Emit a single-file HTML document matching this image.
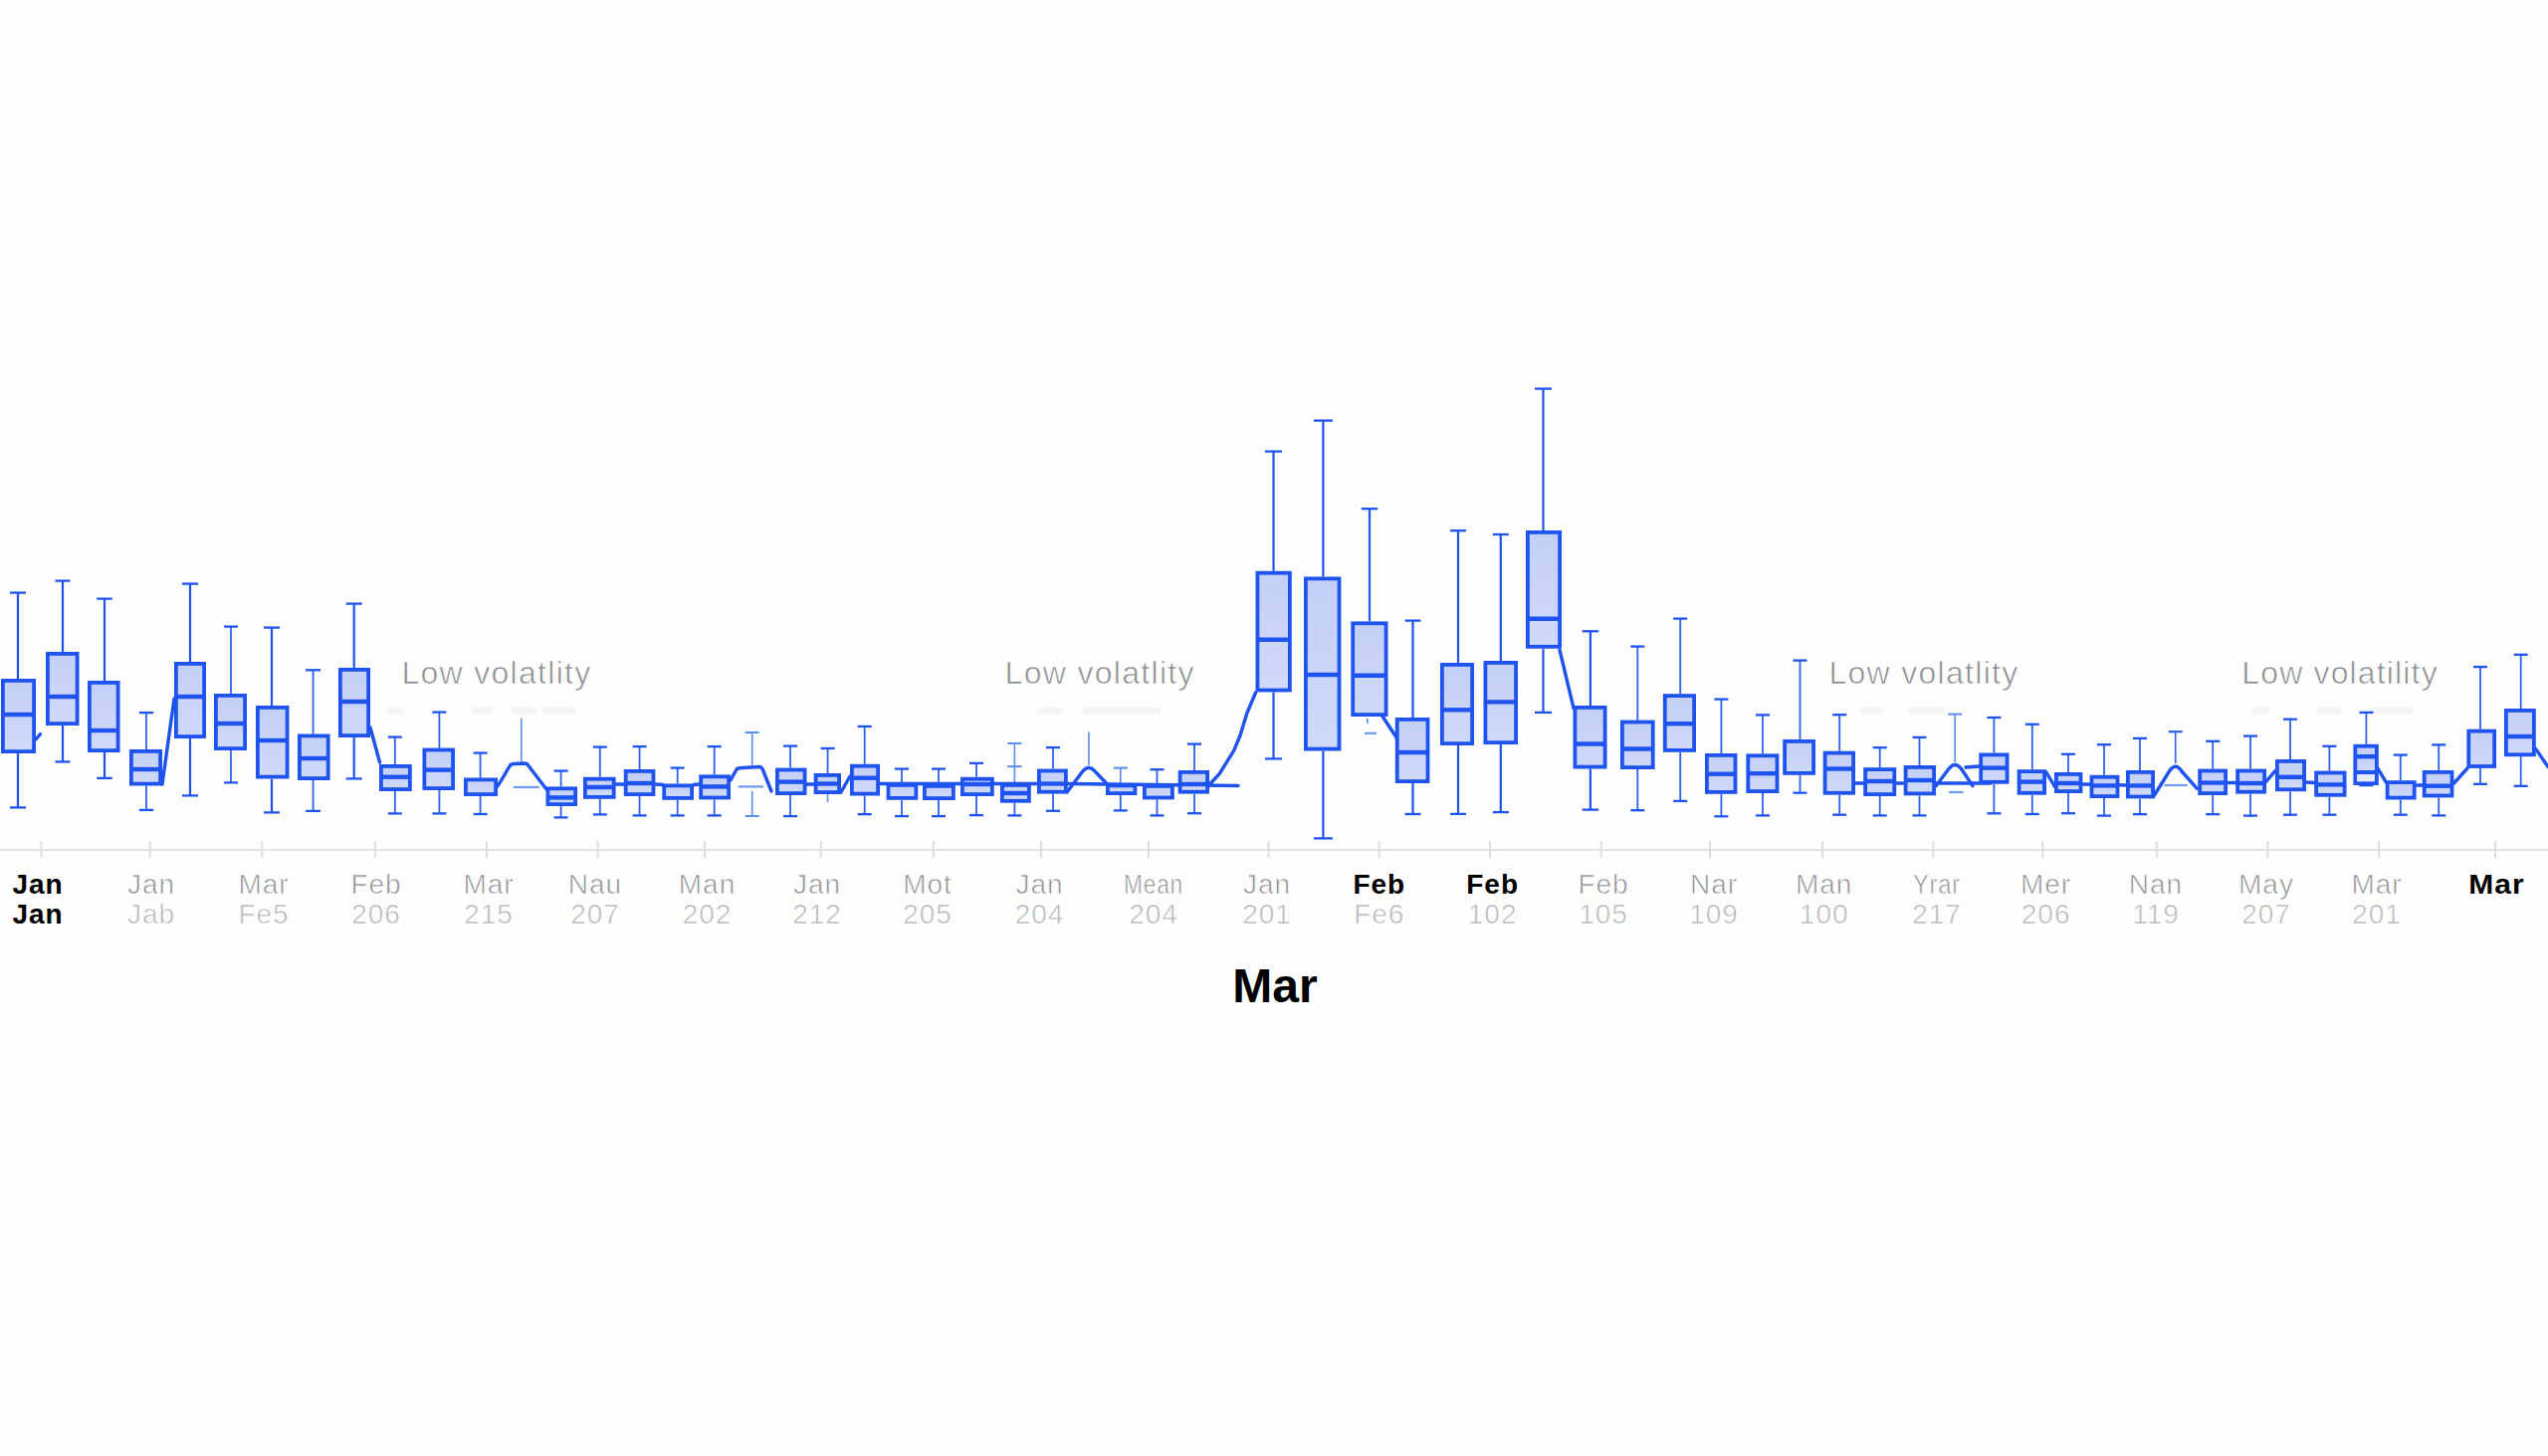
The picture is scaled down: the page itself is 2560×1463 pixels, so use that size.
<!DOCTYPE html>
<html><head><meta charset="utf-8"><title>Box plot</title>
<style>
html,body{margin:0;padding:0;background:#fdfdfb;}
body{width:2560px;height:1463px;overflow:hidden;}
svg{display:block;}
.lab{font-family:"Liberation Sans",Arial,sans-serif;}
</style></head><body>
<svg width="2560" height="1463" viewBox="0 0 2560 1463">
<defs><linearGradient id="bf" x1="0" y1="0" x2="0" y2="1"><stop offset="0" stop-color="#c4cff7"/><stop offset="1" stop-color="#cfd9f9"/></linearGradient></defs>
<rect width="2560" height="1463" fill="#fdfdfb"/>
<g stroke="#dcdee2" stroke-width="2" fill="none">
<line x1="0" y1="854" x2="2560" y2="854" stroke="#e3e4e8"/>
<line x1="41.5" y1="845" x2="41.5" y2="862"/>
<line x1="150.8" y1="845" x2="150.8" y2="862"/>
<line x1="263.3" y1="845" x2="263.3" y2="862"/>
<line x1="376.9" y1="845" x2="376.9" y2="862"/>
<line x1="489" y1="845" x2="489" y2="862"/>
<line x1="600.5" y1="845" x2="600.5" y2="862"/>
<line x1="708" y1="845" x2="708" y2="862"/>
<line x1="824.8" y1="845" x2="824.8" y2="862"/>
<line x1="937.8" y1="845" x2="937.8" y2="862"/>
<line x1="1045.9" y1="845" x2="1045.9" y2="862"/>
<line x1="1154" y1="845" x2="1154" y2="862"/>
<line x1="1274.7" y1="845" x2="1274.7" y2="862"/>
<line x1="1385.7" y1="845" x2="1385.7" y2="862"/>
<line x1="1497" y1="845" x2="1497" y2="862"/>
<line x1="1608.8" y1="845" x2="1608.8" y2="862"/>
<line x1="1718" y1="845" x2="1718" y2="862"/>
<line x1="1831" y1="845" x2="1831" y2="862"/>
<line x1="1942.4" y1="845" x2="1942.4" y2="862"/>
<line x1="2052.3" y1="845" x2="2052.3" y2="862"/>
<line x1="2166.9" y1="845" x2="2166.9" y2="862"/>
<line x1="2278.4" y1="845" x2="2278.4" y2="862"/>
<line x1="2390.2" y1="845" x2="2390.2" y2="862"/>
<line x1="2507" y1="845" x2="2507" y2="862"/>
</g>
<g fill="#f1f2f4" opacity="0.8">
<rect x="388" y="711" width="17" height="6" rx="3"/>
<rect x="474" y="711" width="21" height="6" rx="3"/>
<rect x="513" y="711" width="27" height="6" rx="3"/>
<rect x="545" y="711" width="34" height="6" rx="3"/>
<rect x="1043" y="711" width="25" height="6" rx="3"/>
<rect x="1087" y="711" width="79" height="6" rx="3"/>
<rect x="1870" y="711" width="22" height="6" rx="3"/>
<rect x="1918" y="711" width="37" height="6" rx="3"/>
<rect x="2262" y="711" width="18" height="6" rx="3"/>
<rect x="2327" y="711" width="25" height="6" rx="3"/>
<rect x="2380" y="711" width="45" height="6" rx="3"/>
</g>
<g stroke="#5b8cf0" stroke-width="1.6" fill="none">
<line x1="523.8" y1="721.7" x2="523.8" y2="766"/>
<line x1="755.7" y1="736" x2="755.7" y2="769"/>
<line x1="748.7" y1="736" x2="762.7" y2="736" stroke-width="2"/>
<line x1="755.7" y1="795" x2="755.7" y2="820"/>
<line x1="748.7" y1="820" x2="762.7" y2="820" stroke-width="2"/>
<line x1="1094" y1="735.6" x2="1094" y2="769"/>
<line x1="831.6" y1="798" x2="831.6" y2="806"/>
<line x1="1373.8" y1="722" x2="1373.8" y2="727"/>
<line x1="1019.4" y1="747" x2="1019.4" y2="787"/>
<line x1="1012.4" y1="747" x2="1026.4" y2="747" stroke-width="2"/>
<line x1="1125.8" y1="771.6" x2="1125.8" y2="788"/>
<line x1="1118.8" y1="771.6" x2="1132.8" y2="771.6" stroke-width="2"/>
<line x1="1964.2" y1="717.6" x2="1964.2" y2="766"/>
<line x1="1957.2" y1="717.6" x2="1971.2" y2="717.6" stroke-width="2"/>
<line x1="1012" y1="770.2" x2="1026.5" y2="770.2" stroke-width="2"/>
<line x1="1371" y1="736.8" x2="1383" y2="736.8" stroke-width="2.2" stroke="#6f9af2"/>
<line x1="516" y1="791" x2="541.6" y2="791" stroke-width="2.2" stroke="#6f9af2"/>
<line x1="741.7" y1="790.4" x2="767" y2="790.4" stroke-width="2.2" stroke="#6f9af2"/>
<line x1="1958" y1="796" x2="1972.5" y2="796" stroke-width="2.2" stroke="#6f9af2"/>
<line x1="2174.6" y1="789" x2="2197.7" y2="789" stroke-width="2.2" stroke="#6f9af2"/>
</g>
<g stroke="#1f53ef" stroke-width="3.4" fill="none" stroke-linejoin="round" stroke-linecap="round">
<polyline points="36,743 40.5,737.5"/>
<polyline points="163,788 175,702"/>
<polyline points="372,731 381.5,766"/>
<polyline points="618,788 627,788"/>
<polyline points="658,788 666,788.5"/>
<polyline points="697,788.5 703,788"/>
<polyline points="810,788 818,788"/>
<polyline points="845,796 854,780"/>
<polyline points="884,787.5 1042,787.5"/>
<polyline points="1072,787.5 1244,789.5"/>
<polyline points="1216,787.5 1225.3,777.4 1239.6,754.3 1246,739 1252.7,717 1261.5,696"/>
<polyline points="1388.5,719 1403,741"/>
<polyline points="1567,653 1581,711.7"/>
<polyline points="1864,787 2000,787"/>
<polyline points="1975,771 1989,770"/>
<polyline points="2055.9,776 2064.5,790.4"/>
<polyline points="2092,788 2137,789"/>
<polyline points="2238,786.5 2247,786.5"/>
<polyline points="2276.5,785.6 2286,774.6"/>
<polyline points="2317,786 2325,786.5"/>
<polyline points="2389,772 2397,785.6"/>
<polyline points="2427,789 2434,789"/>
<polyline points="2465.5,787 2479,772"/>
<polyline points="2547.8,752.6 2560,770.5"/>
<path d="M500,790 L512,770 Q513.5,767.5 516,767.5 L527,767 Q529.5,767 531,769.5 L549,793"/>
<path d="M734,784 L739.5,774 Q740.5,771.8 743,771.8 L763,770.5 Q765,770.5 766,772.5 L775,795"/>
<path d="M1072,796 L1087,776 Q1094,767 1101,776 L1112,787.5"/>
<path d="M1945,789.7 L1958,772.5 Q1964.2,764.5 1970.5,772.5 L1982,789.7"/>
<path d="M2164.5,799 L2179.5,775 Q2185.7,765.5 2192,775 L2207.3,792.3"/>
</g>
<g stroke="#1f53ef" fill="none">
<line x1="18" y1="595" x2="18" y2="682" stroke-width="2.2" stroke="#1f53ef"/>
<line x1="10" y1="595.6" x2="26" y2="595.6" stroke-width="2.3"/>
<line x1="18" y1="757" x2="18" y2="812" stroke-width="2.2" stroke="#1f53ef"/>
<line x1="10" y1="811.4" x2="26" y2="811.4" stroke-width="2.3"/>
<rect x="2.9" y="683.9" width="31.2" height="71.2" fill="url(#bf)" stroke-width="3.8"/>
<line x1="2" y1="718" x2="35" y2="718" stroke-width="4.4"/>
<line x1="63" y1="583" x2="63" y2="655" stroke-width="2.2" stroke="#1f53ef"/>
<line x1="55.5" y1="583.6" x2="70.5" y2="583.6" stroke-width="2.3"/>
<line x1="63" y1="729" x2="63" y2="766" stroke-width="2.2" stroke="#1f53ef"/>
<line x1="55.5" y1="765.4" x2="70.5" y2="765.4" stroke-width="2.3"/>
<rect x="47.9" y="656.9" width="29.7" height="70.2" fill="url(#bf)" stroke-width="3.8"/>
<line x1="47" y1="700" x2="78.5" y2="700" stroke-width="4.4"/>
<line x1="105" y1="601" x2="105" y2="684" stroke-width="2.2" stroke="#1f53ef"/>
<line x1="97.25" y1="601.6" x2="112.75" y2="601.6" stroke-width="2.3"/>
<line x1="105" y1="756" x2="105" y2="782.5" stroke-width="2.2" stroke="#1f53ef"/>
<line x1="97.25" y1="781.9" x2="112.75" y2="781.9" stroke-width="2.3"/>
<rect x="89.9" y="685.9" width="28.7" height="68.2" fill="url(#bf)" stroke-width="3.8"/>
<line x1="89" y1="734" x2="119.5" y2="734" stroke-width="4.4"/>
<line x1="147" y1="715.5" x2="147" y2="753" stroke-width="1.8" stroke="#2d62ee"/>
<line x1="139.85" y1="716.1" x2="154.15" y2="716.1" stroke-width="2.3"/>
<line x1="147" y1="789.5" x2="147" y2="814.5" stroke-width="1.8" stroke="#2d62ee"/>
<line x1="139.85" y1="813.9" x2="154.15" y2="813.9" stroke-width="2.3"/>
<rect x="131.9" y="754.9" width="29.2" height="32.7" fill="url(#bf)" stroke-width="3.8"/>
<line x1="131" y1="773" x2="162" y2="773" stroke-width="4.4"/>
<line x1="191" y1="586" x2="191" y2="665" stroke-width="2.2" stroke="#1f53ef"/>
<line x1="183" y1="586.6" x2="199" y2="586.6" stroke-width="2.3"/>
<line x1="191" y1="742" x2="191" y2="800" stroke-width="2.2" stroke="#1f53ef"/>
<line x1="183" y1="799.4" x2="199" y2="799.4" stroke-width="2.3"/>
<rect x="176.9" y="666.9" width="28.2" height="73.2" fill="url(#bf)" stroke-width="3.8"/>
<line x1="176" y1="700" x2="206" y2="700" stroke-width="4.4"/>
<line x1="232" y1="629" x2="232" y2="697" stroke-width="1.8" stroke="#2d62ee"/>
<line x1="225" y1="629.6" x2="239" y2="629.6" stroke-width="2.3"/>
<line x1="232" y1="754" x2="232" y2="787" stroke-width="1.8" stroke="#2d62ee"/>
<line x1="225" y1="786.4" x2="239" y2="786.4" stroke-width="2.3"/>
<rect x="216.9" y="698.9" width="29.2" height="53.2" fill="url(#bf)" stroke-width="3.8"/>
<line x1="216" y1="727" x2="247" y2="727" stroke-width="4.4"/>
<line x1="273" y1="630" x2="273" y2="709" stroke-width="2.2" stroke="#1f53ef"/>
<line x1="265" y1="630.6" x2="281" y2="630.6" stroke-width="2.3"/>
<line x1="273" y1="782.5" x2="273" y2="817" stroke-width="2.2" stroke="#1f53ef"/>
<line x1="265" y1="816.4" x2="281" y2="816.4" stroke-width="2.3"/>
<rect x="258.9" y="710.9" width="29.7" height="69.7" fill="url(#bf)" stroke-width="3.8"/>
<line x1="258" y1="744" x2="289.5" y2="744" stroke-width="4.4"/>
<line x1="314.6" y1="672.7" x2="314.6" y2="737.5" stroke-width="1.8" stroke="#2d62ee"/>
<line x1="307.1" y1="673.3" x2="322.1" y2="673.3" stroke-width="2.3"/>
<line x1="314.6" y1="784" x2="314.6" y2="815.5" stroke-width="1.8" stroke="#2d62ee"/>
<line x1="307.1" y1="814.9" x2="322.1" y2="814.9" stroke-width="2.3"/>
<rect x="300.9" y="739.4" width="28.8" height="42.7" fill="url(#bf)" stroke-width="3.8"/>
<line x1="300" y1="762" x2="330.6" y2="762" stroke-width="4.4"/>
<line x1="355.7" y1="606" x2="355.7" y2="671" stroke-width="2.2" stroke="#1f53ef"/>
<line x1="347.7" y1="606.6" x2="363.7" y2="606.6" stroke-width="2.3"/>
<line x1="355.7" y1="741" x2="355.7" y2="783" stroke-width="2.2" stroke="#1f53ef"/>
<line x1="347.7" y1="782.4" x2="363.7" y2="782.4" stroke-width="2.3"/>
<rect x="341.9" y="672.9" width="28.2" height="66.2" fill="url(#bf)" stroke-width="3.8"/>
<line x1="341" y1="705" x2="371" y2="705" stroke-width="4.4"/>
<line x1="396.8" y1="740" x2="396.8" y2="768" stroke-width="1.8" stroke="#2d62ee"/>
<line x1="389.8" y1="740.6" x2="403.8" y2="740.6" stroke-width="2.3"/>
<line x1="396.8" y1="795" x2="396.8" y2="818" stroke-width="1.8" stroke="#2d62ee"/>
<line x1="389.8" y1="817.4" x2="403.8" y2="817.4" stroke-width="2.3"/>
<rect x="382.9" y="769.9" width="28.95" height="23.2" fill="url(#bf)" stroke-width="3.8"/>
<line x1="382" y1="780.7" x2="412.75" y2="780.7" stroke-width="4.4"/>
<line x1="441.4" y1="715" x2="441.4" y2="751.6" stroke-width="1.8" stroke="#2d62ee"/>
<line x1="434.4" y1="715.6" x2="448.4" y2="715.6" stroke-width="2.3"/>
<line x1="441.4" y1="794" x2="441.4" y2="818" stroke-width="1.8" stroke="#2d62ee"/>
<line x1="434.4" y1="817.4" x2="448.4" y2="817.4" stroke-width="2.3"/>
<rect x="426.4" y="753.5" width="28.7" height="38.6" fill="url(#bf)" stroke-width="3.8"/>
<line x1="425.5" y1="773.6" x2="456" y2="773.6" stroke-width="4.4"/>
<line x1="482.6" y1="756" x2="482.6" y2="781.5" stroke-width="1.8" stroke="#2d62ee"/>
<line x1="475.6" y1="756.6" x2="489.6" y2="756.6" stroke-width="2.3"/>
<line x1="482.6" y1="800" x2="482.6" y2="818.6" stroke-width="1.8" stroke="#2d62ee"/>
<line x1="475.6" y1="818" x2="489.6" y2="818" stroke-width="2.3"/>
<rect x="467.9" y="783.4" width="30.2" height="14.7" fill="url(#bf)" stroke-width="3.8"/>
<line x1="563.6" y1="774" x2="563.6" y2="790.4" stroke-width="1.8" stroke="#2d62ee"/>
<line x1="556.6" y1="774.6" x2="570.6" y2="774.6" stroke-width="2.3"/>
<line x1="563.6" y1="810" x2="563.6" y2="822" stroke-width="1.8" stroke="#2d62ee"/>
<line x1="556.6" y1="821.4" x2="570.6" y2="821.4" stroke-width="2.3"/>
<rect x="550.4" y="792.3" width="27.7" height="15.8" fill="url(#bf)" stroke-width="3.8"/>
<line x1="549.5" y1="801.4" x2="579" y2="801.4" stroke-width="4.4"/>
<line x1="602.8" y1="750" x2="602.8" y2="780.8" stroke-width="1.8" stroke="#2d62ee"/>
<line x1="595.8" y1="750.6" x2="609.8" y2="750.6" stroke-width="2.3"/>
<line x1="602.8" y1="802.8" x2="602.8" y2="819" stroke-width="1.8" stroke="#2d62ee"/>
<line x1="595.8" y1="818.4" x2="609.8" y2="818.4" stroke-width="2.3"/>
<rect x="587.9" y="782.7" width="28.8" height="18.2" fill="url(#bf)" stroke-width="3.8"/>
<line x1="587" y1="791" x2="617.6" y2="791" stroke-width="4.4"/>
<line x1="642.6" y1="749.5" x2="642.6" y2="773" stroke-width="1.8" stroke="#2d62ee"/>
<line x1="635.6" y1="750.1" x2="649.6" y2="750.1" stroke-width="2.3"/>
<line x1="642.6" y1="800" x2="642.6" y2="820" stroke-width="1.8" stroke="#2d62ee"/>
<line x1="635.6" y1="819.4" x2="649.6" y2="819.4" stroke-width="2.3"/>
<rect x="628.7" y="774.9" width="27.8" height="23.2" fill="url(#bf)" stroke-width="3.8"/>
<line x1="627.8" y1="787" x2="657.4" y2="787" stroke-width="4.4"/>
<line x1="680.7" y1="771" x2="680.7" y2="787.5" stroke-width="1.8" stroke="#2d62ee"/>
<line x1="673.7" y1="771.6" x2="687.7" y2="771.6" stroke-width="2.3"/>
<line x1="680.7" y1="803.8" x2="680.7" y2="820" stroke-width="1.8" stroke="#2d62ee"/>
<line x1="673.7" y1="819.4" x2="687.7" y2="819.4" stroke-width="2.3"/>
<rect x="667.2" y="789.4" width="27.9" height="12.5" fill="url(#bf)" stroke-width="3.8"/>
<line x1="717.7" y1="749.5" x2="717.7" y2="778.4" stroke-width="1.8" stroke="#2d62ee"/>
<line x1="710.7" y1="750.1" x2="724.7" y2="750.1" stroke-width="2.3"/>
<line x1="717.7" y1="803.4" x2="717.7" y2="820" stroke-width="1.8" stroke="#2d62ee"/>
<line x1="710.7" y1="819.4" x2="724.7" y2="819.4" stroke-width="2.3"/>
<rect x="704.2" y="780.3" width="27.9" height="21.2" fill="url(#bf)" stroke-width="3.8"/>
<line x1="703.3" y1="790.4" x2="733" y2="790.4" stroke-width="4.4"/>
<line x1="794" y1="749" x2="794" y2="771.6" stroke-width="1.8" stroke="#2d62ee"/>
<line x1="787" y1="749.6" x2="801" y2="749.6" stroke-width="2.3"/>
<line x1="794" y1="799" x2="794" y2="820.7" stroke-width="1.8" stroke="#2d62ee"/>
<line x1="787" y1="820.1" x2="801" y2="820.1" stroke-width="2.3"/>
<rect x="780.9" y="773.5" width="27.7" height="23.6" fill="url(#bf)" stroke-width="3.8"/>
<line x1="780" y1="785.6" x2="809.5" y2="785.6" stroke-width="4.4"/>
<line x1="831.6" y1="751.4" x2="831.6" y2="777" stroke-width="1.8" stroke="#2d62ee"/>
<line x1="824.6" y1="752" x2="838.6" y2="752" stroke-width="2.3"/>
<rect x="819.6" y="778.9" width="23.5" height="17.2" fill="url(#bf)" stroke-width="3.8"/>
<line x1="818.7" y1="787.5" x2="844" y2="787.5" stroke-width="4.4"/>
<line x1="868.7" y1="729.3" x2="868.7" y2="767.8" stroke-width="1.8" stroke="#2d62ee"/>
<line x1="861.7" y1="729.9" x2="875.7" y2="729.9" stroke-width="2.3"/>
<line x1="868.7" y1="799.5" x2="868.7" y2="818.75" stroke-width="1.8" stroke="#2d62ee"/>
<line x1="861.7" y1="818.15" x2="875.7" y2="818.15" stroke-width="2.3"/>
<rect x="855.9" y="769.7" width="26.2" height="27.9" fill="url(#bf)" stroke-width="3.8"/>
<line x1="855" y1="781.7" x2="883" y2="781.7" stroke-width="4.4"/>
<line x1="906" y1="772" x2="906" y2="787" stroke-width="1.8" stroke="#2d62ee"/>
<line x1="899" y1="772.6" x2="913" y2="772.6" stroke-width="2.3"/>
<line x1="906" y1="803.8" x2="906" y2="820.7" stroke-width="1.8" stroke="#2d62ee"/>
<line x1="899" y1="820.1" x2="913" y2="820.1" stroke-width="2.3"/>
<rect x="892.5" y="788.9" width="27.9" height="13" fill="url(#bf)" stroke-width="3.8"/>
<line x1="943" y1="772" x2="943" y2="788" stroke-width="1.8" stroke="#2d62ee"/>
<line x1="936" y1="772.6" x2="950" y2="772.6" stroke-width="2.3"/>
<line x1="943" y1="804" x2="943" y2="820.7" stroke-width="1.8" stroke="#2d62ee"/>
<line x1="936" y1="820.1" x2="950" y2="820.1" stroke-width="2.3"/>
<rect x="928.9" y="789.9" width="29" height="12.2" fill="url(#bf)" stroke-width="3.8"/>
<line x1="981" y1="766.3" x2="981" y2="780.8" stroke-width="1.8" stroke="#2d62ee"/>
<line x1="974" y1="766.9" x2="988" y2="766.9" stroke-width="2.3"/>
<line x1="981" y1="800" x2="981" y2="819.7" stroke-width="1.8" stroke="#2d62ee"/>
<line x1="974" y1="819.1" x2="988" y2="819.1" stroke-width="2.3"/>
<rect x="966.9" y="782.7" width="29.95" height="15.4" fill="url(#bf)" stroke-width="3.8"/>
<line x1="966" y1="788" x2="997.75" y2="788" stroke-width="4.4"/>
<line x1="1019.4" y1="806.7" x2="1019.4" y2="820" stroke-width="1.8" stroke="#2d62ee"/>
<line x1="1012.4" y1="819.4" x2="1026.4" y2="819.4" stroke-width="2.3"/>
<rect x="1006.9" y="788.9" width="27" height="15.9" fill="url(#bf)" stroke-width="3.8"/>
<line x1="1006" y1="797" x2="1034.8" y2="797" stroke-width="4.4"/>
<line x1="1058" y1="750.5" x2="1058" y2="772.6" stroke-width="1.8" stroke="#2d62ee"/>
<line x1="1051" y1="751.1" x2="1065" y2="751.1" stroke-width="2.3"/>
<line x1="1058" y1="797.6" x2="1058" y2="815.4" stroke-width="1.8" stroke="#2d62ee"/>
<line x1="1051" y1="814.8" x2="1065" y2="814.8" stroke-width="2.3"/>
<rect x="1043.9" y="774.5" width="27" height="21.2" fill="url(#bf)" stroke-width="3.8"/>
<line x1="1043" y1="787.5" x2="1071.8" y2="787.5" stroke-width="4.4"/>
<line x1="1125.8" y1="799" x2="1125.8" y2="815" stroke-width="1.8" stroke="#2d62ee"/>
<line x1="1118.8" y1="814.4" x2="1132.8" y2="814.4" stroke-width="2.3"/>
<rect x="1112.9" y="789.4" width="27.5" height="7.7" fill="url(#bf)" stroke-width="3.8"/>
<line x1="1162.5" y1="772.6" x2="1162.5" y2="788" stroke-width="1.8" stroke="#2d62ee"/>
<line x1="1155.5" y1="773.2" x2="1169.5" y2="773.2" stroke-width="2.3"/>
<line x1="1162.5" y1="803.4" x2="1162.5" y2="820" stroke-width="1.8" stroke="#2d62ee"/>
<line x1="1155.5" y1="819.4" x2="1169.5" y2="819.4" stroke-width="2.3"/>
<rect x="1149.9" y="789.9" width="28" height="11.6" fill="url(#bf)" stroke-width="3.8"/>
<line x1="1200" y1="747" x2="1200" y2="774" stroke-width="1.8" stroke="#2d62ee"/>
<line x1="1193" y1="747.6" x2="1207" y2="747.6" stroke-width="2.3"/>
<line x1="1200" y1="797.6" x2="1200" y2="817.8" stroke-width="1.8" stroke="#2d62ee"/>
<line x1="1193" y1="817.2" x2="1207" y2="817.2" stroke-width="2.3"/>
<rect x="1185.6" y="775.9" width="27.5" height="19.8" fill="url(#bf)" stroke-width="3.8"/>
<line x1="1184.7" y1="788" x2="1214" y2="788" stroke-width="4.4"/>
<line x1="1279.5" y1="453" x2="1279.5" y2="573.8" stroke-width="2.2" stroke="#1f53ef"/>
<line x1="1271" y1="453.6" x2="1288" y2="453.6" stroke-width="2.3"/>
<line x1="1279.5" y1="695.4" x2="1279.5" y2="763" stroke-width="2.2" stroke="#1f53ef"/>
<line x1="1271" y1="762.4" x2="1288" y2="762.4" stroke-width="2.3"/>
<rect x="1263.4" y="575.7" width="32.5" height="117.8" fill="url(#bf)" stroke-width="3.8"/>
<line x1="1262.5" y1="642.7" x2="1296.8" y2="642.7" stroke-width="4.4"/>
<line x1="1329.4" y1="422" x2="1329.4" y2="579.5" stroke-width="2.2" stroke="#1f53ef"/>
<line x1="1319.9" y1="422.6" x2="1338.9" y2="422.6" stroke-width="2.3"/>
<line x1="1329.4" y1="754.5" x2="1329.4" y2="843" stroke-width="2.2" stroke="#1f53ef"/>
<line x1="1319.9" y1="842.4" x2="1338.9" y2="842.4" stroke-width="2.3"/>
<rect x="1311.9" y="581.4" width="33.6" height="171.2" fill="url(#bf)" stroke-width="3.8"/>
<line x1="1311" y1="678" x2="1346.4" y2="678" stroke-width="4.4"/>
<line x1="1376" y1="510.6" x2="1376" y2="624.4" stroke-width="2.2" stroke="#1f53ef"/>
<line x1="1367.8" y1="511.2" x2="1384.2" y2="511.2" stroke-width="2.3"/>
<rect x="1359.2" y="626.3" width="33.4" height="91.8" fill="url(#bf)" stroke-width="3.8"/>
<line x1="1358.3" y1="678.7" x2="1393.5" y2="678.7" stroke-width="4.4"/>
<line x1="1419.5" y1="623" x2="1419.5" y2="721" stroke-width="2.2" stroke="#1f53ef"/>
<line x1="1411.6" y1="623.6" x2="1427.4" y2="623.6" stroke-width="2.3"/>
<line x1="1419.5" y1="787" x2="1419.5" y2="818.6" stroke-width="2.2" stroke="#1f53ef"/>
<line x1="1411.6" y1="818" x2="1427.4" y2="818" stroke-width="2.3"/>
<rect x="1403.7" y="722.9" width="30.8" height="62.2" fill="url(#bf)" stroke-width="3.8"/>
<line x1="1402.8" y1="756" x2="1435.4" y2="756" stroke-width="4.4"/>
<line x1="1465" y1="532.6" x2="1465" y2="666" stroke-width="2.2" stroke="#1f53ef"/>
<line x1="1457.1" y1="533.2" x2="1472.9" y2="533.2" stroke-width="2.3"/>
<line x1="1465" y1="749" x2="1465" y2="818.5" stroke-width="2.2" stroke="#1f53ef"/>
<line x1="1457.1" y1="817.9" x2="1472.9" y2="817.9" stroke-width="2.3"/>
<rect x="1448.9" y="667.9" width="30.2" height="79.2" fill="url(#bf)" stroke-width="3.8"/>
<line x1="1448" y1="713.3" x2="1480" y2="713.3" stroke-width="4.4"/>
<line x1="1507.8" y1="536.4" x2="1507.8" y2="664" stroke-width="2.2" stroke="#1f53ef"/>
<line x1="1499.8" y1="537" x2="1515.8" y2="537" stroke-width="2.3"/>
<line x1="1507.8" y1="748" x2="1507.8" y2="816.7" stroke-width="2.2" stroke="#1f53ef"/>
<line x1="1499.8" y1="816.1" x2="1515.8" y2="816.1" stroke-width="2.3"/>
<rect x="1492.4" y="665.9" width="30.7" height="80.2" fill="url(#bf)" stroke-width="3.8"/>
<line x1="1491.5" y1="705.4" x2="1524" y2="705.4" stroke-width="4.4"/>
<line x1="1550.5" y1="390" x2="1550.5" y2="533" stroke-width="2.2" stroke="#1f53ef"/>
<line x1="1542" y1="390.6" x2="1559" y2="390.6" stroke-width="2.3"/>
<line x1="1550.5" y1="651.7" x2="1550.5" y2="716.5" stroke-width="2.2" stroke="#1f53ef"/>
<line x1="1542" y1="715.9" x2="1559" y2="715.9" stroke-width="2.3"/>
<rect x="1534.9" y="534.9" width="32.2" height="114.9" fill="url(#bf)" stroke-width="3.8"/>
<line x1="1534" y1="621.7" x2="1568" y2="621.7" stroke-width="4.4"/>
<line x1="1597.9" y1="633.7" x2="1597.9" y2="709" stroke-width="2.2" stroke="#1f53ef"/>
<line x1="1589.7" y1="634.3" x2="1606.1" y2="634.3" stroke-width="2.3"/>
<line x1="1597.9" y1="772.5" x2="1597.9" y2="814.2" stroke-width="2.2" stroke="#1f53ef"/>
<line x1="1589.7" y1="813.6" x2="1606.1" y2="813.6" stroke-width="2.3"/>
<rect x="1582.4" y="710.9" width="30.2" height="59.7" fill="url(#bf)" stroke-width="3.8"/>
<line x1="1581.5" y1="747.5" x2="1613.5" y2="747.5" stroke-width="4.4"/>
<line x1="1645.3" y1="649" x2="1645.3" y2="723.6" stroke-width="1.8" stroke="#2d62ee"/>
<line x1="1638.3" y1="649.6" x2="1652.3" y2="649.6" stroke-width="2.3"/>
<line x1="1645.3" y1="773" x2="1645.3" y2="814.8" stroke-width="1.8" stroke="#2d62ee"/>
<line x1="1638.3" y1="814.2" x2="1652.3" y2="814.2" stroke-width="2.3"/>
<rect x="1629.9" y="725.5" width="30.8" height="45.6" fill="url(#bf)" stroke-width="3.8"/>
<line x1="1629" y1="752.5" x2="1661.6" y2="752.5" stroke-width="4.4"/>
<line x1="1688.2" y1="621" x2="1688.2" y2="697.2" stroke-width="1.8" stroke="#2d62ee"/>
<line x1="1681.2" y1="621.6" x2="1695.2" y2="621.6" stroke-width="2.3"/>
<line x1="1688.2" y1="755.8" x2="1688.2" y2="805.5" stroke-width="1.8" stroke="#2d62ee"/>
<line x1="1681.2" y1="804.9" x2="1695.2" y2="804.9" stroke-width="2.3"/>
<rect x="1672.8" y="699.1" width="29.3" height="54.8" fill="url(#bf)" stroke-width="3.8"/>
<line x1="1671.9" y1="727.2" x2="1703" y2="727.2" stroke-width="4.4"/>
<line x1="1729.4" y1="702" x2="1729.4" y2="757" stroke-width="1.8" stroke="#2d62ee"/>
<line x1="1722.4" y1="702.6" x2="1736.4" y2="702.6" stroke-width="2.3"/>
<line x1="1729.4" y1="797.8" x2="1729.4" y2="820.9" stroke-width="1.8" stroke="#2d62ee"/>
<line x1="1722.4" y1="820.3" x2="1736.4" y2="820.3" stroke-width="2.3"/>
<rect x="1714.9" y="758.9" width="28.6" height="37" fill="url(#bf)" stroke-width="3.8"/>
<line x1="1714" y1="777.7" x2="1744.4" y2="777.7" stroke-width="4.4"/>
<line x1="1771" y1="717.8" x2="1771" y2="757.4" stroke-width="1.8" stroke="#2d62ee"/>
<line x1="1764" y1="718.4" x2="1778" y2="718.4" stroke-width="2.3"/>
<line x1="1771" y1="797" x2="1771" y2="820" stroke-width="1.8" stroke="#2d62ee"/>
<line x1="1764" y1="819.4" x2="1778" y2="819.4" stroke-width="2.3"/>
<rect x="1756.3" y="759.3" width="29.2" height="35.8" fill="url(#bf)" stroke-width="3.8"/>
<line x1="1755.4" y1="777.2" x2="1786.4" y2="777.2" stroke-width="4.4"/>
<line x1="1808.5" y1="663" x2="1808.5" y2="743" stroke-width="1.8" stroke="#2d62ee"/>
<line x1="1801.5" y1="663.6" x2="1815.5" y2="663.6" stroke-width="2.3"/>
<line x1="1808.5" y1="778.8" x2="1808.5" y2="797.3" stroke-width="1.8" stroke="#2d62ee"/>
<line x1="1801.5" y1="796.7" x2="1815.5" y2="796.7" stroke-width="2.3"/>
<rect x="1793.1" y="744.9" width="29" height="32" fill="url(#bf)" stroke-width="3.8"/>
<line x1="1848.2" y1="717.6" x2="1848.2" y2="754.7" stroke-width="1.8" stroke="#2d62ee"/>
<line x1="1841.2" y1="718.2" x2="1855.2" y2="718.2" stroke-width="2.3"/>
<line x1="1848.2" y1="798.7" x2="1848.2" y2="819.3" stroke-width="1.8" stroke="#2d62ee"/>
<line x1="1841.2" y1="818.7" x2="1855.2" y2="818.7" stroke-width="2.3"/>
<rect x="1833.6" y="756.6" width="28.5" height="40.2" fill="url(#bf)" stroke-width="3.8"/>
<line x1="1832.7" y1="772.5" x2="1863" y2="772.5" stroke-width="4.4"/>
<line x1="1888.7" y1="750.6" x2="1888.7" y2="771.2" stroke-width="1.8" stroke="#2d62ee"/>
<line x1="1881.7" y1="751.2" x2="1895.7" y2="751.2" stroke-width="2.3"/>
<line x1="1888.7" y1="800" x2="1888.7" y2="820" stroke-width="1.8" stroke="#2d62ee"/>
<line x1="1881.7" y1="819.4" x2="1895.7" y2="819.4" stroke-width="2.3"/>
<rect x="1874.1" y="773.1" width="29.2" height="25" fill="url(#bf)" stroke-width="3.8"/>
<line x1="1873.2" y1="785" x2="1904.2" y2="785" stroke-width="4.4"/>
<line x1="1928.5" y1="740.3" x2="1928.5" y2="769" stroke-width="1.8" stroke="#2d62ee"/>
<line x1="1921.5" y1="740.9" x2="1935.5" y2="740.9" stroke-width="2.3"/>
<line x1="1928.5" y1="799.3" x2="1928.5" y2="820" stroke-width="1.8" stroke="#2d62ee"/>
<line x1="1921.5" y1="819.4" x2="1935.5" y2="819.4" stroke-width="2.3"/>
<rect x="1914.6" y="770.9" width="28.5" height="26.5" fill="url(#bf)" stroke-width="3.8"/>
<line x1="1913.7" y1="784" x2="1944" y2="784" stroke-width="4.4"/>
<line x1="2003.4" y1="720.4" x2="2003.4" y2="756.5" stroke-width="1.8" stroke="#2d62ee"/>
<line x1="1996.4" y1="721" x2="2010.4" y2="721" stroke-width="2.3"/>
<line x1="2003.4" y1="787.7" x2="2003.4" y2="817.9" stroke-width="1.8" stroke="#2d62ee"/>
<line x1="1996.4" y1="817.3" x2="2010.4" y2="817.3" stroke-width="2.3"/>
<rect x="1990.2" y="758.4" width="26.4" height="27.4" fill="url(#bf)" stroke-width="3.8"/>
<line x1="1989.3" y1="771.6" x2="2017.5" y2="771.6" stroke-width="4.4"/>
<line x1="2041.8" y1="727.2" x2="2041.8" y2="773.2" stroke-width="1.8" stroke="#2d62ee"/>
<line x1="2034.8" y1="727.8" x2="2048.8" y2="727.8" stroke-width="2.3"/>
<line x1="2041.8" y1="798.7" x2="2041.8" y2="818.6" stroke-width="1.8" stroke="#2d62ee"/>
<line x1="2034.8" y1="818" x2="2048.8" y2="818" stroke-width="2.3"/>
<rect x="2028.6" y="775.1" width="25.5" height="21.7" fill="url(#bf)" stroke-width="3.8"/>
<line x1="2027.7" y1="785.6" x2="2055" y2="785.6" stroke-width="4.4"/>
<line x1="2078" y1="757.2" x2="2078" y2="776" stroke-width="1.8" stroke="#2d62ee"/>
<line x1="2071" y1="757.8" x2="2085" y2="757.8" stroke-width="2.3"/>
<line x1="2078" y1="797" x2="2078" y2="817.8" stroke-width="1.8" stroke="#2d62ee"/>
<line x1="2071" y1="817.2" x2="2085" y2="817.2" stroke-width="2.3"/>
<rect x="2065.9" y="777.9" width="24.6" height="17.2" fill="url(#bf)" stroke-width="3.8"/>
<line x1="2065" y1="787" x2="2091.4" y2="787" stroke-width="4.4"/>
<line x1="2114" y1="747.6" x2="2114" y2="778.8" stroke-width="1.8" stroke="#2d62ee"/>
<line x1="2107" y1="748.2" x2="2121" y2="748.2" stroke-width="2.3"/>
<line x1="2114" y1="802" x2="2114" y2="820.2" stroke-width="1.8" stroke="#2d62ee"/>
<line x1="2107" y1="819.6" x2="2121" y2="819.6" stroke-width="2.3"/>
<rect x="2101.5" y="780.7" width="26" height="19.4" fill="url(#bf)" stroke-width="3.8"/>
<line x1="2100.6" y1="789.4" x2="2128.4" y2="789.4" stroke-width="4.4"/>
<line x1="2150" y1="741.3" x2="2150" y2="774" stroke-width="1.8" stroke="#2d62ee"/>
<line x1="2143" y1="741.9" x2="2157" y2="741.9" stroke-width="2.3"/>
<line x1="2150" y1="802.4" x2="2150" y2="818.75" stroke-width="1.8" stroke="#2d62ee"/>
<line x1="2143" y1="818.15" x2="2157" y2="818.15" stroke-width="2.3"/>
<rect x="2137.9" y="775.9" width="25.2" height="24.6" fill="url(#bf)" stroke-width="3.8"/>
<line x1="2137" y1="789.4" x2="2164" y2="789.4" stroke-width="4.4"/>
<line x1="2223.2" y1="744.2" x2="2223.2" y2="772.6" stroke-width="1.8" stroke="#2d62ee"/>
<line x1="2216.2" y1="744.8" x2="2230.2" y2="744.8" stroke-width="2.3"/>
<line x1="2223.2" y1="799" x2="2223.2" y2="818.75" stroke-width="1.8" stroke="#2d62ee"/>
<line x1="2216.2" y1="818.15" x2="2230.2" y2="818.15" stroke-width="2.3"/>
<rect x="2210.2" y="774.5" width="25.9" height="22.6" fill="url(#bf)" stroke-width="3.8"/>
<line x1="2209.3" y1="786.5" x2="2237" y2="786.5" stroke-width="4.4"/>
<line x1="2261" y1="739" x2="2261" y2="772.6" stroke-width="1.8" stroke="#2d62ee"/>
<line x1="2254" y1="739.6" x2="2268" y2="739.6" stroke-width="2.3"/>
<line x1="2261" y1="797.6" x2="2261" y2="820.2" stroke-width="1.8" stroke="#2d62ee"/>
<line x1="2254" y1="819.6" x2="2268" y2="819.6" stroke-width="2.3"/>
<rect x="2248.15" y="774.5" width="26.95" height="21.2" fill="url(#bf)" stroke-width="3.8"/>
<line x1="2247.25" y1="787" x2="2276" y2="787" stroke-width="4.4"/>
<line x1="2301" y1="722.1" x2="2301" y2="763" stroke-width="1.8" stroke="#2d62ee"/>
<line x1="2294" y1="722.7" x2="2308" y2="722.7" stroke-width="2.3"/>
<line x1="2301" y1="795.2" x2="2301" y2="819.3" stroke-width="1.8" stroke="#2d62ee"/>
<line x1="2294" y1="818.7" x2="2308" y2="818.7" stroke-width="2.3"/>
<rect x="2287.9" y="764.9" width="27.2" height="28.4" fill="url(#bf)" stroke-width="3.8"/>
<line x1="2287" y1="780.8" x2="2316" y2="780.8" stroke-width="4.4"/>
<line x1="2340.4" y1="749.2" x2="2340.4" y2="774.6" stroke-width="1.8" stroke="#2d62ee"/>
<line x1="2333.4" y1="749.8" x2="2347.4" y2="749.8" stroke-width="2.3"/>
<line x1="2340.4" y1="800.7" x2="2340.4" y2="819.3" stroke-width="1.8" stroke="#2d62ee"/>
<line x1="2333.4" y1="818.7" x2="2347.4" y2="818.7" stroke-width="2.3"/>
<rect x="2327.1" y="776.5" width="28.5" height="22.3" fill="url(#bf)" stroke-width="3.8"/>
<line x1="2326.2" y1="788.4" x2="2356.5" y2="788.4" stroke-width="4.4"/>
<line x1="2377.4" y1="715.3" x2="2377.4" y2="747.8" stroke-width="1.8" stroke="#2d62ee"/>
<line x1="2370.4" y1="715.9" x2="2384.4" y2="715.9" stroke-width="2.3"/>
<line x1="2377.4" y1="789" x2="2377.4" y2="789.7" stroke-width="1.8" stroke="#2d62ee"/>
<line x1="2370.4" y1="789.1" x2="2384.4" y2="789.1" stroke-width="2.3"/>
<rect x="2366.3" y="749.7" width="21.6" height="37.4" fill="url(#bf)" stroke-width="3.8"/>
<line x1="2365.4" y1="760.2" x2="2388.8" y2="760.2" stroke-width="4.4"/>
<line x1="2411.8" y1="758" x2="2411.8" y2="784.2" stroke-width="1.8" stroke="#2d62ee"/>
<line x1="2404.8" y1="758.6" x2="2418.8" y2="758.6" stroke-width="2.3"/>
<line x1="2411.8" y1="803.5" x2="2411.8" y2="819.3" stroke-width="1.8" stroke="#2d62ee"/>
<line x1="2404.8" y1="818.7" x2="2418.8" y2="818.7" stroke-width="2.3"/>
<rect x="2398.6" y="786.1" width="27.1" height="15.5" fill="url(#bf)" stroke-width="3.8"/>
<line x1="2450.2" y1="747.8" x2="2450.2" y2="774" stroke-width="1.8" stroke="#2d62ee"/>
<line x1="2443.2" y1="748.4" x2="2457.2" y2="748.4" stroke-width="2.3"/>
<line x1="2450.2" y1="801.4" x2="2450.2" y2="820" stroke-width="1.8" stroke="#2d62ee"/>
<line x1="2443.2" y1="819.4" x2="2457.2" y2="819.4" stroke-width="2.3"/>
<rect x="2435.7" y="775.9" width="27.8" height="23.6" fill="url(#bf)" stroke-width="3.8"/>
<line x1="2434.8" y1="789.7" x2="2464.4" y2="789.7" stroke-width="4.4"/>
<line x1="2492" y1="669.5" x2="2492" y2="732.7" stroke-width="1.8" stroke="#2d62ee"/>
<line x1="2485" y1="670.1" x2="2499" y2="670.1" stroke-width="2.3"/>
<line x1="2492" y1="771.9" x2="2492" y2="788.4" stroke-width="1.8" stroke="#2d62ee"/>
<line x1="2485" y1="787.8" x2="2499" y2="787.8" stroke-width="2.3"/>
<rect x="2480.3" y="734.6" width="25.8" height="35.4" fill="url(#bf)" stroke-width="3.8"/>
<line x1="2532.7" y1="657.2" x2="2532.7" y2="712" stroke-width="1.8" stroke="#2d62ee"/>
<line x1="2525.7" y1="657.8" x2="2539.7" y2="657.8" stroke-width="2.3"/>
<line x1="2532.7" y1="760.2" x2="2532.7" y2="790.4" stroke-width="1.8" stroke="#2d62ee"/>
<line x1="2525.7" y1="789.8" x2="2539.7" y2="789.8" stroke-width="2.3"/>
<rect x="2517.9" y="713.9" width="28" height="44.4" fill="url(#bf)" stroke-width="3.8"/>
<line x1="2517" y1="740" x2="2546.8" y2="740" stroke-width="4.4"/>
<line x1="2185.7" y1="734.6" x2="2185.7" y2="767" stroke-width="1.6" stroke="#2d62ee"/>
<line x1="2178.7" y1="735.2" x2="2192.7" y2="735.2" stroke-width="2.2" stroke="#2d62ee"/>
<rect x="2368.2" y="778" width="17.8" height="7.2" fill="#e6ebfb" stroke="none"/>
<line x1="2365" y1="776" x2="2389" y2="776" stroke-width="4"/>
</g>
<g class="lab" font-size="32" fill="#878b91" stroke="#fdfdfb" stroke-width="0.7" letter-spacing="1.3">
<text x="403.4" y="686.6">Low volatlity</text>
<text x="1009.6" y="686.6">Low volatlity</text>
<text x="1837.4" y="686.6">Low volatlity</text>
<text x="2252.3" y="686.6" letter-spacing="1.15">Low volatility</text>
</g>
<g class="lab" font-size="28" text-anchor="middle" letter-spacing="1">
<text x="38" y="897.8" font-weight="bold" fill="#000">Jan</text>
<text x="38" y="928" font-weight="bold" fill="#000">Jan</text>
<text x="152" y="897.8" fill="#8a8e94" stroke="#fdfdfb" stroke-width="0.7">Jan</text>
<text x="152" y="928" fill="#b0b4b9" stroke="#fdfdfb" stroke-width="0.7">Jab</text>
<text x="265" y="897.8" fill="#8a8e94" stroke="#fdfdfb" stroke-width="0.7">Mar</text>
<text x="265" y="928" fill="#b0b4b9" stroke="#fdfdfb" stroke-width="0.7">Fe5</text>
<text x="378" y="897.8" fill="#8a8e94" stroke="#fdfdfb" stroke-width="0.7">Feb</text>
<text x="378" y="928" fill="#b0b4b9" stroke="#fdfdfb" stroke-width="0.7">206</text>
<text x="491" y="897.8" fill="#8a8e94" stroke="#fdfdfb" stroke-width="0.7">Mar</text>
<text x="491" y="928" fill="#b0b4b9" stroke="#fdfdfb" stroke-width="0.7">215</text>
<text x="598" y="897.8" fill="#8a8e94" stroke="#fdfdfb" stroke-width="0.7">Nau</text>
<text x="598" y="928" fill="#b0b4b9" stroke="#fdfdfb" stroke-width="0.7">207</text>
<text x="710.5" y="897.8" fill="#8a8e94" stroke="#fdfdfb" stroke-width="0.7">Man</text>
<text x="710.5" y="928" fill="#b0b4b9" stroke="#fdfdfb" stroke-width="0.7">202</text>
<text x="821" y="897.8" fill="#8a8e94" stroke="#fdfdfb" stroke-width="0.7">Jan</text>
<text x="821" y="928" fill="#b0b4b9" stroke="#fdfdfb" stroke-width="0.7">212</text>
<text x="932" y="897.8" fill="#8a8e94" stroke="#fdfdfb" stroke-width="0.7">Mot</text>
<text x="932" y="928" fill="#b0b4b9" stroke="#fdfdfb" stroke-width="0.7">205</text>
<text x="1044.5" y="897.8" fill="#8a8e94" stroke="#fdfdfb" stroke-width="0.7">Jan</text>
<text x="1044.5" y="928" fill="#b0b4b9" stroke="#fdfdfb" stroke-width="0.7">204</text>
<text x="1159" y="897.8" fill="#8a8e94" stroke="#fdfdfb" stroke-width="0.7" textLength="60" lengthAdjust="spacingAndGlyphs">Mean</text>
<text x="1159" y="928" fill="#b0b4b9" stroke="#fdfdfb" stroke-width="0.7">204</text>
<text x="1273" y="897.8" fill="#8a8e94" stroke="#fdfdfb" stroke-width="0.7">Jan</text>
<text x="1273" y="928" fill="#b0b4b9" stroke="#fdfdfb" stroke-width="0.7">201</text>
<text x="1385.8" y="897.8" font-weight="bold" fill="#000">Feb</text>
<text x="1385.8" y="928" fill="#b0b4b9" stroke="#fdfdfb" stroke-width="0.7">Fe6</text>
<text x="1499.6" y="897.8" font-weight="bold" fill="#000">Feb</text>
<text x="1499.6" y="928" fill="#b0b4b9" stroke="#fdfdfb" stroke-width="0.7">102</text>
<text x="1611" y="897.8" fill="#8a8e94" stroke="#fdfdfb" stroke-width="0.7">Feb</text>
<text x="1611" y="928" fill="#b0b4b9" stroke="#fdfdfb" stroke-width="0.7">105</text>
<text x="1722" y="897.8" fill="#8a8e94" stroke="#fdfdfb" stroke-width="0.7">Nar</text>
<text x="1722" y="928" fill="#b0b4b9" stroke="#fdfdfb" stroke-width="0.7">109</text>
<text x="1832.7" y="897.8" fill="#8a8e94" stroke="#fdfdfb" stroke-width="0.7">Man</text>
<text x="1832.7" y="928" fill="#b0b4b9" stroke="#fdfdfb" stroke-width="0.7">100</text>
<text x="1946" y="897.8" fill="#8a8e94" stroke="#fdfdfb" stroke-width="0.7" textLength="48" lengthAdjust="spacingAndGlyphs">Yrar</text>
<text x="1946" y="928" fill="#b0b4b9" stroke="#fdfdfb" stroke-width="0.7">217</text>
<text x="2055.6" y="897.8" fill="#8a8e94" stroke="#fdfdfb" stroke-width="0.7">Mer</text>
<text x="2055.6" y="928" fill="#b0b4b9" stroke="#fdfdfb" stroke-width="0.7">206</text>
<text x="2166" y="897.8" fill="#8a8e94" stroke="#fdfdfb" stroke-width="0.7">Nan</text>
<text x="2166" y="928" fill="#b0b4b9" stroke="#fdfdfb" stroke-width="0.7">119</text>
<text x="2277" y="897.8" fill="#8a8e94" stroke="#fdfdfb" stroke-width="0.7">May</text>
<text x="2277" y="928" fill="#b0b4b9" stroke="#fdfdfb" stroke-width="0.7">207</text>
<text x="2388" y="897.8" fill="#8a8e94" stroke="#fdfdfb" stroke-width="0.7">Mar</text>
<text x="2388" y="928" fill="#b0b4b9" stroke="#fdfdfb" stroke-width="0.7">201</text>
<text x="2508.6" y="897.8" font-weight="bold" fill="#000" textLength="56.5" lengthAdjust="spacingAndGlyphs">Mar</text>
</g>
<text class="lab" x="1281" y="1006.7" font-size="48" font-weight="bold" text-anchor="middle" fill="#000">Mar</text>
</svg>
</body></html>
